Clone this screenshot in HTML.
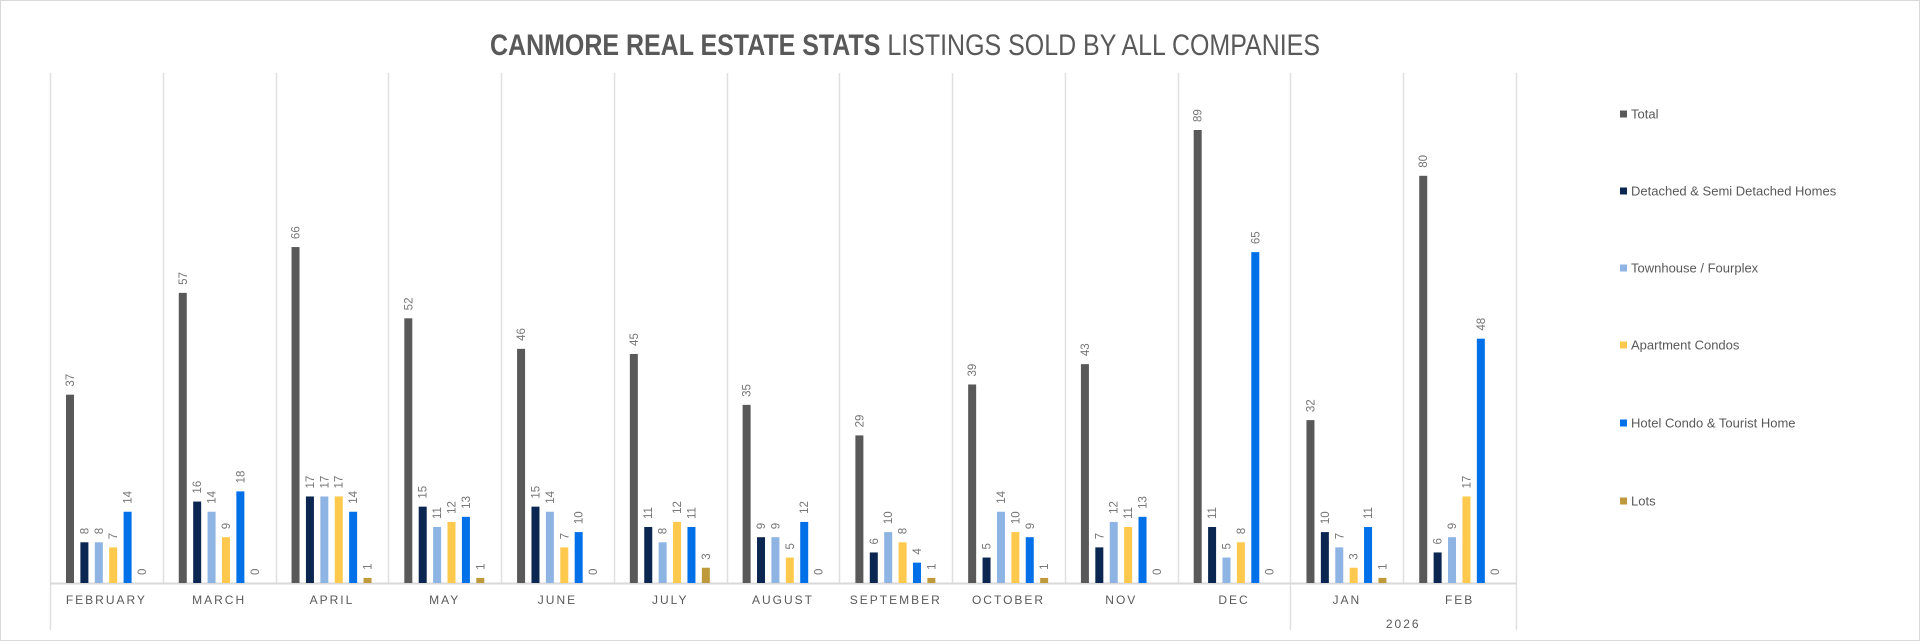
<!DOCTYPE html>
<html><head><meta charset="utf-8"><style>
html,body{margin:0;padding:0;background:#fff}
svg{display:block;font-family:"Liberation Sans",sans-serif}
</style></head><body>
<svg id="chart" width="1920" height="644" viewBox="0 0 1920 644" xmlns="http://www.w3.org/2000/svg">
<rect x="0.5" y="0.5" width="1919" height="640" fill="#fff" stroke="#d9d9d9"/>
<text x="905" y="55" text-anchor="middle" font-size="30" fill="#595959" textLength="830" lengthAdjust="spacingAndGlyphs"><tspan font-weight="bold">CANMORE REAL ESTATE STATS</tspan> LISTINGS SOLD BY ALL COMPANIES</text>
<g id="grid"></g><g id="bars"></g><g id="legend"></g>
</svg>
<script>
const categories=["FEBRUARY","MARCH","APRIL","MAY","JUNE","JULY","AUGUST","SEPTEMBER","OCTOBER","NOV","DEC","JAN","FEB"];
const seriesNames=["Total","Detached & Semi Detached Homes","Townhouse / Fourplex","Apartment Condos","Hotel Condo & Tourist Home","Lots"];
const total=[37,57,66,52,46,45,35,29,39,43,89,32,80];
const detached=[8,16,17,15,15,11,9,6,5,7,11,10,6];
const townhouse=[8,14,17,11,14,8,9,10,14,12,5,7,9];
const apartment=[7,9,17,12,7,12,5,8,10,11,8,3,17];
const hotel=[14,18,14,13,10,11,12,4,9,13,65,11,48];
const lots=[0,0,1,1,0,3,0,1,1,0,0,1,0];
const yearLabel="2026";
const series=[total,detached,townhouse,apartment,hotel,lots];
const colors=["#595959","#0b2650","#8eb4e3","#ffc94d","#0070e8","#bf9a3c"];
const NS="http://www.w3.org/2000/svg";
const L=50,R=1516,base=583,top0=73,ppu=5.09;
const cw=(R-L)/categories.length;
const xCat=i=>L+i*cw;
const yv=v=>base-v*ppu;
function mk(tag,attrs,parent){const e=document.createElementNS(NS,tag);for(const k in attrs)e.setAttribute(k,attrs[k]);parent.appendChild(e);return e;}
const grid=document.getElementById('grid'),bars=document.getElementById('bars'),leg=document.getElementById('legend');
for(let i=0;i<=categories.length;i++){
  const x=Math.round(xCat(i))+0.5;
  const long=(i===0||i===11||i===13);
  const l=mk('line',{x1:x,x2:x,y1:top0,y2:long?630:base,stroke:'#e0e0e0','stroke-width':1.5},grid);
  
  
}
const ax=mk('line',{x1:L,x2:R,y1:base+0.5,y2:base+0.5,stroke:'#d9d9d9','stroke-width':2},grid);


categories.forEach((c,i)=>{
  const t=mk('text',{x:xCat(i)+cw/2,y:604,'text-anchor':'middle','font-size':12,fill:'#595959','letter-spacing':'2'},grid);
  t.textContent=c;
  
  
});
const yl=mk('text',{x:(xCat(11)+xCat(13))/2,y:628,'text-anchor':'middle','font-size':12,fill:'#595959','letter-spacing':'2'},grid);
yl.textContent=yearLabel;


const pitch=14.4,bw=8,off=16;
categories.forEach((c,i)=>{
  series.forEach((s,j)=>{
    const v=s[i];const x=xCat(i)+off+j*pitch;
    const r=mk('rect',{x:x,y:yv(v),width:bw,height:v*ppu,fill:colors[j]},bars);
    
    
    const ly=yv(v)-8,lx=x+bw/2+4;
    const t=mk('text',{x:lx,y:ly,transform:`rotate(-90 ${lx} ${ly})`,'font-size':11.5,fill:'#767676'},bars);
    t.textContent=v;
    
    
  });
});
const legY=[114,191,268,345,423,501];
seriesNames.forEach((n,j)=>{
  const g=mk('g',{},leg);
  
  
  mk('rect',{x:1620,y:legY[j]-3.5,width:7,height:7,fill:colors[j]},g);
  const t=mk('text',{x:1631,y:legY[j]+4.5,'font-size':13,fill:'#595959'},g);
  t.textContent=n;
});
</script>
</body></html>
